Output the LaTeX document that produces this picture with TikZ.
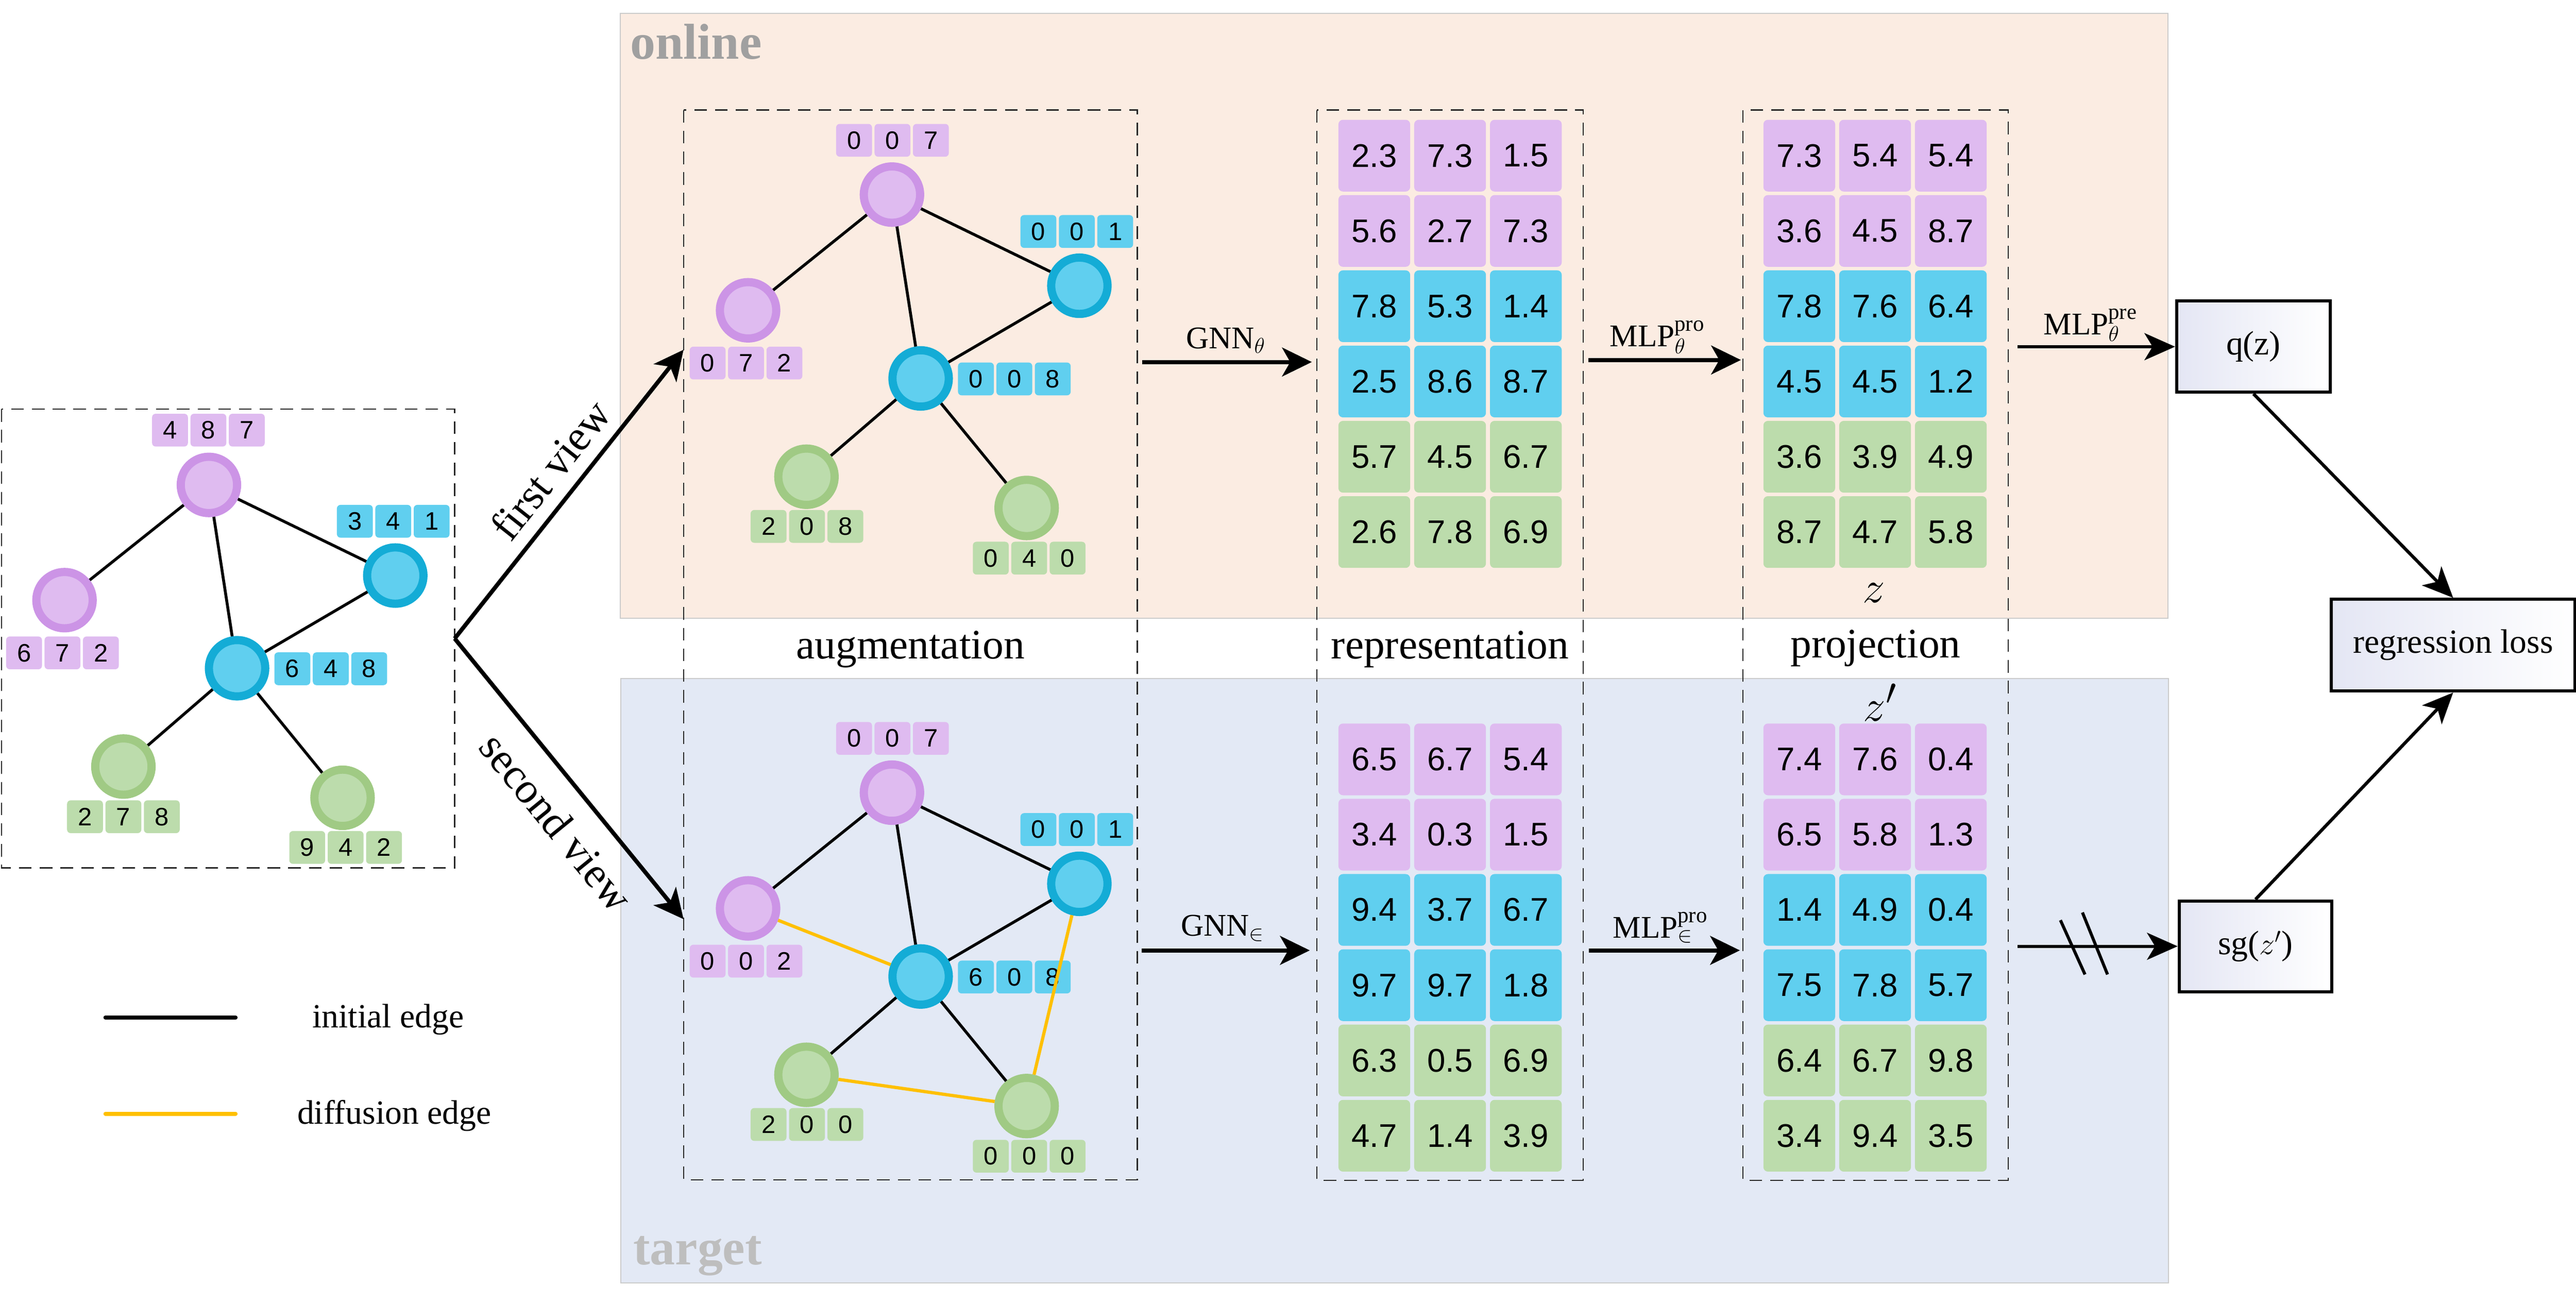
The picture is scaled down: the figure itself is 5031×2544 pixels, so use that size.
\documentclass[tikz,border=0pt]{standalone}
\usepackage{fontspec}
\setmainfont{Liberation Serif}
\newfontfamily\arialf{Liberation Sans}
\usetikzlibrary{arrows.meta}
\definecolor{pring}{HTML}{CC94E6}
\definecolor{pfill}{HTML}{DFBBF0}
\definecolor{bring}{HTML}{14ACD6}
\definecolor{bfill}{HTML}{60CFEF}
\definecolor{gring}{HTML}{A0CA84}
\definecolor{gfill}{HTML}{BCDCAC}
\definecolor{yedge}{HTML}{FFC000}
\definecolor{onlinebg}{HTML}{FBECE2}
\definecolor{targetbg}{HTML}{E3E9F5}
\definecolor{panelline}{HTML}{CBCBCB}
\definecolor{lav}{HTML}{E4E6F4}
\definecolor{onlinetxt}{HTML}{A0A0A0}
\definecolor{targettxt}{HTML}{BEBEBE}
\tikzset{
  gnode/.style={circle, line width=4.55pt, minimum size=1.1cm, inner sep=0pt},
  pnode/.style={gnode, draw=pring, fill=pfill},
  bnode/.style={gnode, draw=bring, fill=bfill},
  grnode/.style={gnode, draw=gring, fill=gfill},
  lcell/.style={minimum width=0.70cm, minimum height=0.64cm, inner sep=0pt, rounded corners=2pt, font=\arialf\fontsize{14}{14}\selectfont},
  cell/.style={minimum width=1.40cm, minimum height=1.40cm, inner sep=0pt, rounded corners=2.5pt, font=\arialf\fontsize{18.2}{18.2}\selectfont},
  iedge/.style={line width=1.6pt, black},
  dedge/.style={line width=1.8pt, yedge},
  dashbox/.style={line width=0.7pt, black!85, dash pattern=on 7pt off 4.5pt},
  bigarr/.style={line width=2.3pt, -{Stealth[length=16.5pt, width=16pt, inset=4.5pt]}},
  midarr/.style={line width=1.8pt, -{Stealth[length=17pt, width=15pt, inset=4.5pt]}},
  arrlbl/.style={anchor=base, inner sep=0pt, font=\fontsize{17.5}{17.5}\selectfont},
  stage/.style={anchor=base, inner sep=0pt, font=\fontsize{23.3}{23.3}\selectfont},
  gbox/.style={draw, line width=1.7pt, left color=lav, right color=white, inner sep=0pt, font=\fontsize{18.8}{18.8}\selectfont},
  legtxt/.style={anchor=base, inner sep=0pt, font=\fontsize{18.8}{18.8}\selectfont},
  panel/.style={line width=0.6pt, draw=panelline}
}
\newcommand\flab[7]{%
  \node[lcell,fill=#4] (#1-1) at ({#2-75},#3) {#5};
  \node[lcell,fill=#4] (#1-2) at (#2,#3) {#6};
  \node[lcell,fill=#4] (#1-3) at ({#2+75},#3) {#7};}
\newcommand\numgrid[4]{%
  \foreach \v [count=\i from 0] in {#4} {
    \pgfmathtruncatemacro\myrow{div(\i,3)}
    \pgfmathtruncatemacro\mycol{mod(\i,3)}
    \ifcase\myrow \def\cc{pfill}\or\def\cc{pfill}\or\def\cc{bfill}\or\def\cc{bfill}\or\def\cc{gfill}\else\def\cc{gfill}\fi
    \node[cell, fill=\cc] (#1-\i) at ({#2+148*\mycol},{#3+147*\myrow}) {\v};
  }}
\begin{document}
\begin{tikzpicture}[x=0.01cm, y=-0.01cm]
\useasboundingbox (0,0) rectangle (5031,2544);

% panels
\fill[onlinebg] (1211,26) rectangle (4234,1207);
\draw[panel] (1211,26) rectangle (4234,1207);
\fill[targetbg] (1212,1325) rectangle (4235,2505);
\draw[panel] (1212,1325) rectangle (4235,2505);
\node[anchor=base west, inner sep=0pt, text=onlinetxt, font=\bfseries\fontsize{28}{28}\selectfont] (onl) at (1230,115) {online};
\node[anchor=base west, inner sep=0pt, text=targettxt, font=\bfseries\fontsize{28}{28}\selectfont] (tgt) at (1236,2470) {target};

% dashed boxes
\draw[dashbox] (3,799) rectangle (888,1695);
\draw[dashbox] (1335,215) rectangle (2221,2304);
\draw[dashbox] (2572,215) rectangle (3092,2305);
\draw[dashbox] (3404,215) rectangle (3922,2305);

% original graph
\node[pnode] (o1) at (408,947) {};
\node[pnode] (o2) at (126,1172) {};
\node[bnode] (o3) at (772,1124) {};
\node[bnode] (o4) at (463,1305) {};
\node[grnode] (o5) at (241,1497) {};
\node[grnode] (o6) at (669,1558) {};
\flab{fo1}{407}{840}{pfill}{4}{8}{7}
\flab{fo2}{122}{1275}{pfill}{6}{7}{2}
\flab{fo3}{768}{1018}{bfill}{3}{4}{1}
\flab{fo4}{646}{1306}{bfill}{6}{4}{8}
\flab{fo5}{241}{1595}{gfill}{2}{7}{8}
\flab{fo6}{675}{1655}{gfill}{9}{4}{2}
\draw[iedge] (o1) -- (o2);
\draw[iedge] (o1) -- (o4);
\draw[iedge] (o1) -- (o3);
\draw[iedge] (o3) -- (o4);
\draw[iedge] (o4) -- (o5);
\draw[iedge] (o4) -- (o6);

% upper augmented graph
\node[pnode] (u1) at (1742,380) {};
\node[pnode] (u2) at (1461,606) {};
\node[bnode] (u3) at (2108,558) {};
\node[bnode] (u4) at (1798,739) {};
\node[grnode] (u5) at (1575,931) {};
\node[grnode] (u6) at (2005,992) {};
\flab{fu1}{1743}{274}{pfill}{0}{0}{7}
\flab{fu2}{1457}{709}{pfill}{0}{7}{2}
\flab{fu3}{2103}{452}{bfill}{0}{0}{1}
\flab{fu4}{1981}{740}{bfill}{0}{0}{8}
\flab{fu5}{1576}{1028}{gfill}{2}{0}{8}
\flab{fu6}{2010}{1090}{gfill}{0}{4}{0}
\draw[iedge] (u1) -- (u2);
\draw[iedge] (u1) -- (u4);
\draw[iedge] (u1) -- (u3);
\draw[iedge] (u3) -- (u4);
\draw[iedge] (u4) -- (u5);
\draw[iedge] (u4) -- (u6);

% lower augmented graph
\node[pnode] (l1) at (1742,1548) {};
\node[pnode] (l2) at (1461,1774) {};
\node[bnode] (l3) at (2108,1726) {};
\node[bnode] (l4) at (1798,1907) {};
\node[grnode] (l5) at (1575,2099) {};
\node[grnode] (l6) at (2005,2160) {};
\flab{fl1}{1743}{1442}{pfill}{0}{0}{7}
\flab{fl2}{1457}{1877}{pfill}{0}{0}{2}
\flab{fl3}{2103}{1620}{bfill}{0}{0}{1}
\flab{fl4}{1981}{1908}{bfill}{6}{0}{8}
\flab{fl5}{1576}{2196}{gfill}{2}{0}{0}
\flab{fl6}{2010}{2258}{gfill}{0}{0}{0}
\draw[iedge] (l1) -- (l2);
\draw[iedge] (l1) -- (l4);
\draw[iedge] (l1) -- (l3);
\draw[iedge] (l3) -- (l4);
\draw[iedge] (l4) -- (l5);
\draw[iedge] (l4) -- (l6);
\draw[dedge] (l2) -- (l4);
\draw[dedge] (l5) -- (l6);
\draw[dedge] (l3) -- (l6);

% grids
\numgrid{rt}{2684}{304}{2.3,7.3,1.5,5.6,2.7,7.3,7.8,5.3,1.4,2.5,8.6,8.7,5.7,4.5,6.7,2.6,7.8,6.9}
\numgrid{pt}{3514}{304}{7.3,5.4,5.4,3.6,4.5,8.7,7.8,7.6,6.4,4.5,4.5,1.2,3.6,3.9,4.9,8.7,4.7,5.8}
\numgrid{rb}{2684}{1483}{6.5,6.7,5.4,3.4,0.3,1.5,9.4,3.7,6.7,9.7,9.7,1.8,6.3,0.5,6.9,4.7,1.4,3.9}
\numgrid{pb}{3514}{1483}{7.4,7.6,0.4,6.5,5.8,1.3,1.4,4.9,0.4,7.5,7.8,5.7,6.4,6.7,9.8,3.4,9.4,3.5}

% stage labels
\node[stage] (saug) at (1778,1286) {augmentation};
\node[stage] (srep) at (2832,1286) {representation};
\node[stage] (sproj) at (3663,1284) {projection};
\node[inner sep=0pt, font=\fontsize{28}{28}\selectfont] (zlab) at (3660,1158) {$z$};
\node[inner sep=0pt, font=\fontsize{28}{28}\selectfont] (zplab) at (3672,1372) {$z'$};

% view arrows
\coordinate (split) at (888,1247);
\coordinate (fvend) at (1335,683);
\coordinate (svend) at (1335,1795);
\draw[bigarr] (split) -- node[sloped, above, pos=0.52, inner sep=7pt, font=\fontsize{24}{24}\selectfont] (fvl) {first view} (fvend);
\draw[bigarr] (split) -- node[sloped, below, pos=0.57, inner sep=11pt, font=\fontsize{24}{24}\selectfont] (svl) {second view} (svend);

% online arrows
\coordinate (g1s) at (2231,707);
\coordinate (g1e) at (2562,707);
\draw[bigarr] (g1s) -- (g1e);
\node[arrlbl] (g1l) at (2394,681) {GNN$_\theta$};
\coordinate (m1s) at (3102,703);
\coordinate (m1e) at (3400,703);
\draw[bigarr] (m1s) -- (m1e);
\node[arrlbl] (m1l) at (3237,677) {MLP$_\theta^{\mathrm{pro}}$};

% target arrows
\coordinate (g2s) at (2230,1856);
\coordinate (g2e) at (2558,1856);
\draw[bigarr] (g2s) -- (g2e);
\node[arrlbl] (g2l) at (2388,1828) {GNN$_\in$};
\coordinate (m2s) at (3103,1856);
\coordinate (m2e) at (3398,1856);
\draw[bigarr] (m2s) -- (m2e);
\node[arrlbl] (m2l) at (3243,1832) {MLP$_\in^{\mathrm{pro}}$};

% right boxes
\node[gbox, minimum width=3.00cm, minimum height=1.78cm] (qz) at (4401,677) {q(z)};
\node[gbox, minimum width=2.98cm, minimum height=1.77cm] (sg) at (4405,1848) {sg($z'$)};
\node[gbox, minimum width=4.76cm, minimum height=1.79cm] (loss) at (4791,1260) {regression loss};

\coordinate (p1s) at (3940,677);
\draw[midarr] (p1s) -- (qz.west);
\node[arrlbl] (p1l) at (4083,653) {MLP$_\theta^{\mathrm{pre}}$};
\coordinate (p2s) at (3940,1848);
\draw[midarr] (p2s) -- (sg.west);
\draw[line width=1.7pt] (4024,1797) -- (4072,1903);
\draw[line width=1.7pt] (4067,1782) -- (4116,1903);
\draw[midarr] (qz.south) -- (loss.north);
\draw[midarr] (sg.north) -- (loss.south);

% legend
\coordinate (lg1a) at (206,1987);
\coordinate (lg1b) at (460,1987);
\coordinate (lg2a) at (206,2175);
\coordinate (lg2b) at (460,2175);
\draw[line width=2.3pt, line cap=round, black] (lg1a) -- (lg1b);
\draw[line width=2.3pt, line cap=round, yedge] (lg2a) -- (lg2b);
\node[legtxt] (lgt1) at (758,2007) {initial edge};
\node[legtxt] (lgt2) at (770,2195) {diffusion edge};
\end{tikzpicture}
\end{document}
